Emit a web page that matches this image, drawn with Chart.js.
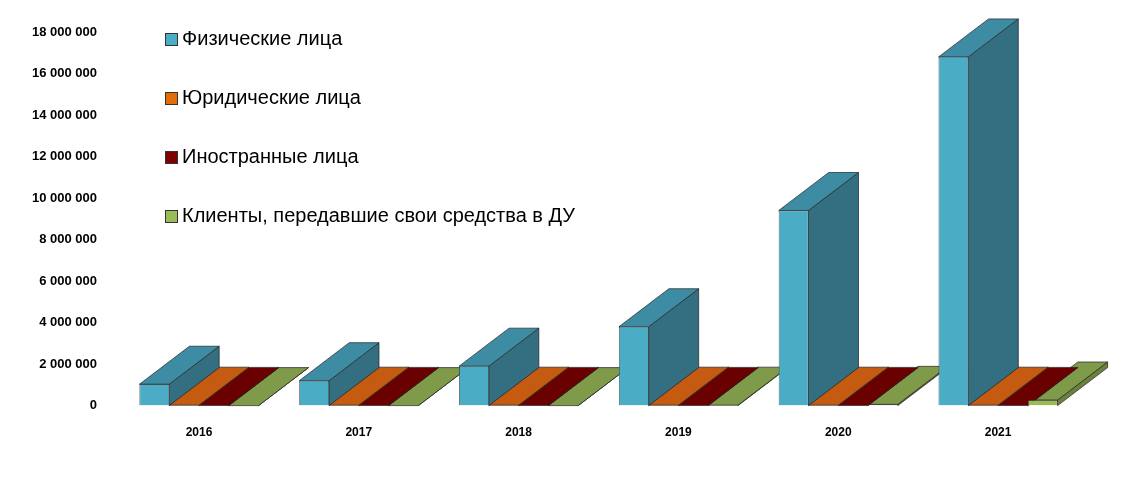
<!DOCTYPE html>
<html><head><meta charset="utf-8">
<script src="https://cdn.jsdelivr.net/npm/chart.js@4/dist/chart.umd.min.js"></script>
<style>
body{margin:0;background:#fff;}
#wrap{position:relative;width:1126px;height:488px;}
#leg{position:absolute;left:165px;top:24px;font:20px "Liberation Sans",Arial,sans-serif;color:#000;width:445px;}
#leg div{position:relative;padding-left:17px;margin-bottom:31px;line-height:28px;}
#leg span{position:absolute;left:0;top:9px;width:11px;height:11px;border:1px solid #333;}
</style></head><body>
<div id="wrap"><canvas id="c" width="1126" height="488"></canvas>
<div id="leg"></div></div>
<script>
var years = ["2016", "2017", "2018", "2019", "2020", "2021"];
var seriesNames = ["Физические лица", "Юридические лица", "Иностранные лица", "Клиенты, передавшие свои средства в ДУ"];
var fizValues = [1030000, 1200000, 1900000, 3800000, 9400000, 16800000];
var yurValues = [20000, 20000, 20000, 20000, 20000, 20000];
var inoValues = [10000, 10000, 10000, 10000, 10000, 10000];
var duValues = [0, 0, 0, 20000, 60000, 270000];
var frontColors = ["#4BACC6", "#E36C09", "#7F0000", "#9BBB59"];
var sideColors = ["#336F80", "#A04C06", "#560000", "#6A803C"];
var topColors = ["#3E8CA3", "#C55A11", "#6B0000", "#7F9A49"];

var leg = document.getElementById("leg");
seriesNames.forEach(function (n, i) {
  var d = document.createElement("div");
  d.innerHTML = '<span style="background:' + frontColors[i] + '"></span>' + n;
  if (i == 3) { d.style.paddingLeft = "0"; d.style.textIndent = "17px"; }
  leg.appendChild(d);
});

var DX = 50, DY = -38;
var threeD = {
  id: "threeD",
  beforeDatasetsDraw: function (chart) {
    var ctx = chart.ctx;
    for (var di = chart.data.datasets.length - 1; di >= 0; di--) {
      var meta = chart.getDatasetMeta(di);
      meta.data.forEach(function (b) {
        var l = b.x - b.width / 2, r = b.x + b.width / 2, t = b.y, bo = b.base;
        ctx.fillStyle = sideColors[di];
        ctx.beginPath();
        ctx.moveTo(r, t); ctx.lineTo(r + DX, t + DY); ctx.lineTo(r + DX, bo + DY); ctx.lineTo(r, bo);
        ctx.closePath(); ctx.fill();
        ctx.strokeStyle = "#222"; ctx.lineWidth = 0.7; ctx.stroke();
        ctx.fillStyle = topColors[di];
        ctx.beginPath();
        ctx.moveTo(l, t); ctx.lineTo(l + DX, t + DY); ctx.lineTo(r + DX, t + DY); ctx.lineTo(r, t);
        ctx.closePath(); ctx.fill(); ctx.stroke();
      });
    }
  }
};

var sets = [fizValues, yurValues, inoValues, duValues].map(function (v, i) {
  return { label: seriesNames[i], data: v, backgroundColor: frontColors[i], borderColor: "#222", borderWidth: 0.7,
    barPercentage: 1, categoryPercentage: 0.745 };
});

new Chart("c", {
  type: "bar",
  data: { labels: years, datasets: sets },
  options: {
    responsive: false, animation: false,
    layout: { padding: { top: 32, right: 48, left: 18, bottom: 36 } },
    plugins: { legend: { display: false }, tooltip: { enabled: false } },
    scales: {
      x: { grid: { display: false }, border: { display: false },
        ticks: { color: "#000", font: { family: "Liberation Sans", size: 12, weight: "bold" }, padding: 12 } },
      y: { min: 0, max: 18000000, grid: { display: false }, border: { display: false },
        ticks: { stepSize: 2000000, color: "#000", padding: 14,
          font: { family: "Liberation Sans", size: 13, weight: "bold" },
          callback: function (v) { return String(v).replace(/\B(?=(\d{3})+(?!\d))/g, " "); } } }
    }
  },
  plugins: [threeD]
});
</script>
</body></html>
